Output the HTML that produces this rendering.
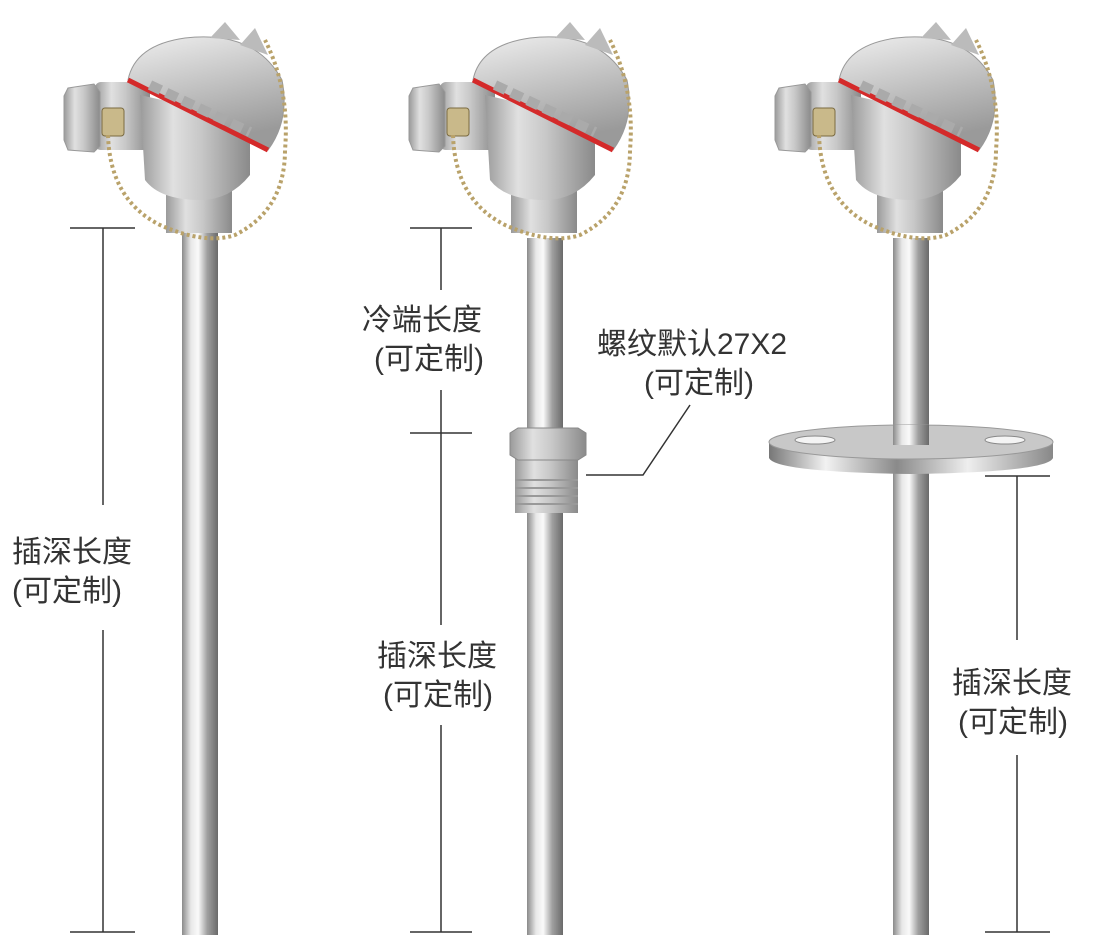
<!DOCTYPE html>
<html><head><meta charset="utf-8"><style>
html,body{margin:0;padding:0;background:#fff;}
svg{display:block}
text{font-family:"Liberation Sans","Noto Sans CJK SC",sans-serif;fill:#333;font-size:30px;}
</style></head><body>
<svg width="1100" height="945" viewBox="0 0 1100 945" xmlns="http://www.w3.org/2000/svg">
<defs>
<linearGradient id="tube" x1="0" x2="1" y1="0" y2="0">
<stop offset="0" stop-color="#8a8a8a"/><stop offset="0.25" stop-color="#e8e8e8"/><stop offset="0.45" stop-color="#fafafa"/><stop offset="0.7" stop-color="#a0a0a0"/><stop offset="1" stop-color="#6a6a6a"/>
</linearGradient>
<linearGradient id="body" x1="0" x2="1" y1="0" y2="0">
<stop offset="0" stop-color="#9a9a9a"/><stop offset="0.3" stop-color="#e0e0e0"/><stop offset="0.55" stop-color="#c8c8c8"/><stop offset="1" stop-color="#8a8a8a"/>
</linearGradient>
<linearGradient id="dome" x1="0" x2="0.3" y1="0" y2="1">
<stop offset="0" stop-color="#eeeeee"/><stop offset="0.5" stop-color="#c4c4c4"/><stop offset="1" stop-color="#9a9a9a"/>
</linearGradient>
<linearGradient id="flange" x1="0" x2="1" y1="0" y2="0">
<stop offset="0" stop-color="#777"/><stop offset="0.2" stop-color="#f2f2f2"/><stop offset="0.45" stop-color="#8a8a8a"/><stop offset="0.7" stop-color="#eee"/><stop offset="1" stop-color="#888"/>
</linearGradient>
<g id="head">
<rect x="95" y="82" width="55" height="68" rx="6" fill="url(#body)"/>
<path d="M68 88 L94 84 L100 92 L100 146 L94 152 L68 150 L64 140 L64 96 Z" fill="url(#body)" stroke="#999"/>
<rect x="102" y="108" width="22" height="28" rx="3" fill="#c9b98a" stroke="#7a6a40"/>
<rect x="166" y="185" width="66" height="48" fill="url(#body)"/>
<path d="M140 95 L250 120 L250 175 Q230 200 200 200 Q160 200 145 180 Z" fill="url(#body)"/>
<path d="M128 80 Q135 45 185 38 Q255 30 282 80 Q290 120 268 150 Z" fill="url(#dome)" stroke="#999"/>
<polygon points="210,38 225,22 240,40" fill="#bbb"/>
<polygon points="240,45 255,28 268,55" fill="#bbb"/>
<path d="M128 80 L268 150" stroke="#d42a2a" stroke-width="5"/>
<path d="M150 85 L250 132" stroke="#aaa" stroke-width="10" stroke-dasharray="12 6" fill="none"/>
<path d="M108 135 Q110 200 160 225 Q205 245 235 235 Q285 210 285 150 Q290 90 265 40" stroke="#b9a26a" stroke-width="4" stroke-dasharray="3 3" fill="none"/>
</g>
</defs>

<rect x="182" y="228" width="36" height="707" fill="url(#tube)"/>
<use href="#head"/>
<g stroke="#333" stroke-width="1.5">
<line x1="70" y1="228" x2="135" y2="228"/><line x1="103" y1="228" x2="103" y2="505"/>
<line x1="103" y1="630" x2="103" y2="932"/><line x1="70" y1="932" x2="135" y2="932"/>
</g>
<text x="12" y="562">插深长度</text>
<text x="12" y="601">(可定制)</text>

<rect x="527" y="238" width="36" height="697" fill="url(#tube)"/>
<use href="#head" transform="translate(345,0)"/>
<path d="M515 458 L578 458 L578 513 L515 513 Z" fill="url(#body)"/>
<g stroke="#999" stroke-width="2"><line x1="515" y1="480" x2="578" y2="480"/><line x1="515" y1="488" x2="578" y2="488"/><line x1="515" y1="496" x2="578" y2="496"/><line x1="515" y1="504" x2="578" y2="504"/></g>
<path d="M510 433 L518 428 L578 428 L586 433 L586 455 L578 460 L518 460 L510 455 Z" fill="url(#body)" stroke="#888"/>
<g stroke="#333" stroke-width="1.5" fill="none">
<line x1="410" y1="228" x2="472" y2="228"/><line x1="441" y1="228" x2="441" y2="290"/>
<line x1="441" y1="390" x2="441" y2="625"/><line x1="410" y1="433" x2="472" y2="433"/>
<line x1="441" y1="725" x2="441" y2="932"/><line x1="410" y1="932" x2="472" y2="932"/>
<polyline points="586,475 643,475 690,405"/>
</g>
<text x="362" y="330">冷端长度</text>
<text x="374" y="369">(可定制)</text>
<text x="377" y="666">插深长度</text>
<text x="383" y="705">(可定制)</text>
<text x="597" y="354">螺纹默认27X2</text>
<text x="644" y="393">(可定制)</text>

<rect x="893" y="238" width="36" height="697" fill="url(#tube)"/>
<use href="#head" transform="translate(711,0)"/>
<path d="M769 442 L769 458 Q775 472 911 474 Q1047 472 1053 458 L1053 442 Z" fill="url(#flange)"/>
<ellipse cx="911" cy="442" rx="142" ry="17" fill="#c8c8c8" stroke="#999"/>
<ellipse cx="815" cy="440" rx="20" ry="4" fill="#f4f4f4" stroke="#888"/>
<ellipse cx="1005" cy="440" rx="20" ry="4" fill="#f4f4f4" stroke="#888"/>
<rect x="893" y="425" width="36" height="20" fill="url(#tube)"/>
<g stroke="#333" stroke-width="1.5">
<line x1="985" y1="476" x2="1050" y2="476"/><line x1="1017" y1="476" x2="1017" y2="640"/>
<line x1="1017" y1="755" x2="1017" y2="932"/><line x1="985" y1="932" x2="1050" y2="932"/>
</g>
<text x="952" y="693">插深长度</text>
<text x="958" y="732">(可定制)</text>
</svg>
</body></html>
